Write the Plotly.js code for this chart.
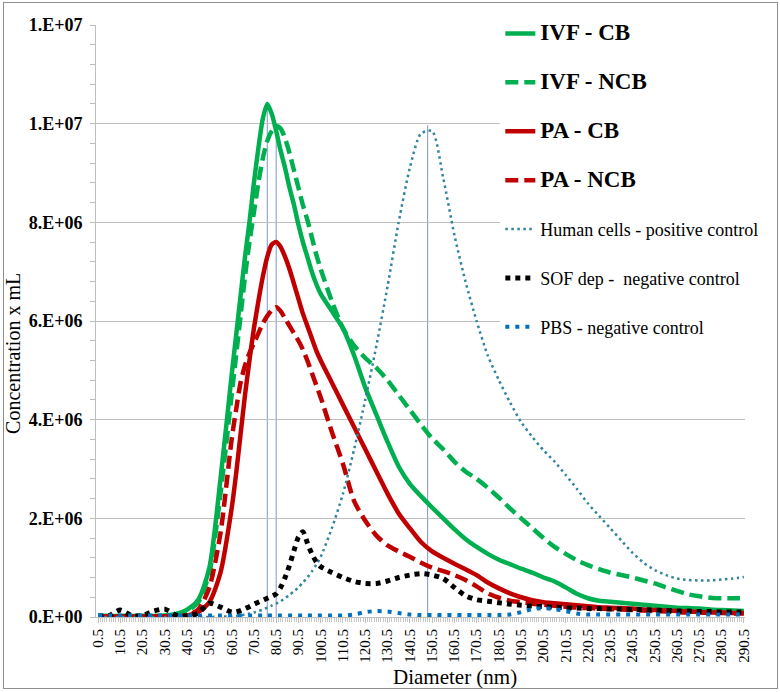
<!DOCTYPE html>
<html>
<head>
<meta charset="utf-8">
<script src="https://cdn.plot.ly/plotly-3.0.1.min.js"></script>
<style>
  body { margin: 0; background: #ffffff; }
  #chart { width: 780px; height: 692px; }
  #frame {
    position: absolute; left: 3px; top: 2px; width: 773px; height: 685px;
    border: 1px solid #8e8e8e; pointer-events: none;
  }
</style>
</head>
<body>
<div id="chart"></div>
<div id="frame"></div>
<script>
const FONT = "Times New Roman";
const SCALE = 1e6; // series below are in millions per mL

const diameters = [
  0.5, 5.5, 10.5, 15.5, 20.5, 25.5, 30.5, 35.5, 40.5, 45.5, 50.5, 55.5,
  60.5, 62.5, 64.5, 66.5, 68.5, 70.5, 72.5, 74.5, 76.5, 78.5, 80.5, 82.5, 84.5, 86.5, 88.5, 90.5, 92.5, 94.5, 96.5, 98.5, 100.5,
  105.5, 110.5, 115.5, 120.5, 125.5, 130.5, 135.5, 140.5, 145.5, 150.5, 155.5, 160.5, 165.5, 170.5, 175.5, 180.5, 185.5, 190.5,
  195.5, 200.5, 205.5, 210.5, 215.5, 220.5, 225.5, 230.5, 235.5, 240.5, 245.5, 250.5, 255.5, 260.5, 265.5, 270.5, 275.5, 280.5, 285.5, 290.5,
];

const ivfCb = [
  0.02, 0.02, 0.02, 0.02, 0.02, 0.02, 0.03, 0.06, 0.15, 0.35, 1.0, 2.8,
  4.9, 5.7, 6.5, 7.3, 8.0, 8.8, 9.5, 10.1, 10.4, 10.2, 9.85, 9.45, 9.1, 8.7, 8.35, 7.95, 7.6, 7.3, 7.0, 6.75, 6.55,
  6.2, 5.85, 5.3, 4.65, 4.1, 3.55, 3.05, 2.7, 2.45, 2.22, 2.0, 1.78, 1.58, 1.42, 1.28, 1.16, 1.07, 0.98,
  0.9, 0.8, 0.72, 0.6, 0.47, 0.38, 0.33, 0.31, 0.29, 0.27, 0.25, 0.23, 0.21, 0.19, 0.18, 0.17, 0.15, 0.14, 0.13, 0.12,
];
const ivfNcb = [
  0.02, 0.02, 0.02, 0.02, 0.02, 0.02, 0.02, 0.04, 0.12, 0.3, 0.9, 2.5,
  4.5, 5.3, 6.1, 6.9, 7.6, 8.2, 8.8, 9.3, 9.65, 9.85, 9.95, 9.9, 9.7, 9.4, 9.05, 8.7, 8.35, 8.05, 7.7, 7.35, 7.05,
  6.4, 5.85, 5.5, 5.25, 5.05, 4.8, 4.5, 4.2, 3.9, 3.62, 3.4, 3.15, 2.95, 2.8, 2.62, 2.42, 2.2, 2.0,
  1.8, 1.6, 1.42, 1.28, 1.15, 1.05, 0.97, 0.9, 0.85, 0.8, 0.74, 0.68, 0.6, 0.53, 0.46, 0.42, 0.39, 0.38, 0.38, 0.38,
];
const paCb = [
  0.01, 0.01, 0.01, 0.01, 0.01, 0.01, 0.01, 0.01, 0.03, 0.1, 0.3, 0.9,
  2.2, 2.9, 3.7, 4.5, 5.2, 5.85, 6.4, 6.9, 7.3, 7.55, 7.6, 7.5, 7.3, 7.05, 6.75, 6.45, 6.15, 5.9, 5.65, 5.4, 5.2,
  4.75, 4.3, 3.85, 3.4, 2.95, 2.5, 2.1, 1.8, 1.52, 1.33, 1.2, 1.08, 0.97, 0.85, 0.7, 0.58, 0.48, 0.4,
  0.34, 0.3, 0.28, 0.26, 0.24, 0.22, 0.2, 0.19, 0.18, 0.17, 0.15, 0.14, 0.13, 0.12, 0.11, 0.1, 0.09, 0.09, 0.08, 0.08,
];
const paNcb = [
  0.01, 0.01, 0.01, 0.01, 0.01, 0.01, 0.01, 0.01, 0.03, 0.15, 0.6, 1.7,
  3.6, 4.2, 4.75, 5.1, 5.35, 5.55, 5.75, 5.95, 6.1, 6.22, 6.28, 6.2, 6.05, 5.9, 5.75, 5.6, 5.42, 5.2, 4.95, 4.7, 4.45,
  3.75, 3.1, 2.35, 1.95, 1.65, 1.45, 1.33, 1.22, 1.1, 1.0, 0.93, 0.85, 0.75, 0.62, 0.48, 0.39, 0.33, 0.3,
  0.27, 0.25, 0.23, 0.21, 0.19, 0.18, 0.17, 0.16, 0.15, 0.14, 0.13, 0.12, 0.11, 0.1, 0.09, 0.09, 0.08, 0.08, 0.07, 0.07,
];
const humanCells = [
  0, 0, 0, 0, 0, 0, 0, 0, 0, 0, 0, 0.01,
  0.01, 0.02, 0.03, 0.05, 0.07, 0.09, 0.12, 0.15, 0.19, 0.23, 0.27, 0.32, 0.38, 0.45, 0.52, 0.6, 0.7, 0.8, 0.92, 1.06, 1.22,
  1.8, 2.5, 3.4, 4.4, 5.5, 6.7, 8.0, 9.1, 9.8, 9.85, 8.9, 7.75, 6.8, 6.0, 5.3, 4.8, 4.35, 3.95,
  3.65, 3.38, 3.15, 2.88, 2.6, 2.3, 2.05, 1.8, 1.55, 1.3, 1.1, 0.95, 0.85, 0.78, 0.75, 0.74, 0.74, 0.76, 0.78, 0.81,
];
const sofDep = [
  0.02, 0.03, 0.14, 0.03, 0.03, 0.12, 0.16, 0.04, 0.02, 0.08, 0.28, 0.2,
  0.1, 0.1, 0.13, 0.17, 0.21, 0.26, 0.3, 0.34, 0.38, 0.42, 0.47, 0.6, 0.8, 1.05, 1.35, 1.62, 1.73, 1.5, 1.28, 1.12, 1.02,
  0.9, 0.8, 0.72, 0.68, 0.68, 0.73, 0.8, 0.85, 0.88, 0.85, 0.78, 0.6, 0.43, 0.35, 0.32, 0.29, 0.26, 0.24,
  0.22, 0.21, 0.2, 0.19, 0.18, 0.17, 0.17, 0.16, 0.16, 0.15, 0.15, 0.14, 0.13, 0.12, 0.12, 0.11, 0.11, 0.1, 0.1, 0.1,
];
const pbs = [
  0.03, 0.03, 0.03, 0.03, 0.03, 0.03, 0.03, 0.03, 0.03, 0.03, 0.03, 0.03,
  0.03, 0.03, 0.03, 0.03, 0.03, 0.03, 0.03, 0.03, 0.03, 0.03, 0.03, 0.03, 0.03, 0.03, 0.03, 0.03, 0.03, 0.03, 0.03, 0.03, 0.03,
  0.03, 0.03, 0.05, 0.1, 0.12, 0.11, 0.08, 0.05, 0.04, 0.04, 0.04, 0.04, 0.04, 0.04, 0.04, 0.04, 0.05, 0.1,
  0.16, 0.18, 0.16, 0.12, 0.07, 0.05, 0.05, 0.05, 0.05, 0.05, 0.05, 0.05, 0.05, 0.05, 0.05, 0.05, 0.05, 0.05, 0.05, 0.05,
];

// drop lines under the main peaks
const peakDiameters = [76.5, 80.5, 148.5];
const peakHeights = [10.4, 9.95, 9.97];

const xTickValues = [0.5, 10.5, 20.5, 30.5, 40.5, 50.5, 60.5, 70.5, 80.5, 90.5, 100.5, 110.5, 120.5, 130.5, 140.5,
  150.5, 160.5, 170.5, 180.5, 190.5, 200.5, 210.5, 220.5, 230.5, 240.5, 250.5, 260.5, 270.5, 280.5, 290.5];
const yTickValues = [0, 2, 4, 6, 8, 10, 12];
const yTickLabels = ["0.E+00", "2.E+06", "4.E+06", "6.E+06", "8.E+06", "1.E+07", "1.E+07"];

const SERIES = [
  { name: "IVF - CB", values: ivfCb, color: "#00b050", width: 4.5, dash: "solid", bold: true },
  { name: "IVF - NCB", values: ivfNcb, color: "#00b050", width: 4.5, dash: "13px,6px", bold: true },
  { name: "PA - CB", values: paCb, color: "#c00000", width: 4.5, dash: "solid", bold: true },
  { name: "PA - NCB", values: paNcb, color: "#c00000", width: 4.5, dash: "13px,6px", bold: true },
  { name: "Human cells - positive control", values: humanCells, color: "#31849b", width: 2.5, dash: "2.5px,3.5px" },
  { name: "SOF dep -  negative control", values: sofDep, color: "#000000", width: 5, dash: "5px,5px" },
  { name: "PBS - negative control", values: pbs, color: "#0070c0", width: 4, dash: "4px,6px" },
];

function legendLabel(series) {
  const text = series.name.replace(/ {2}/g, " &nbsp;");
  return series.bold ? `<b><span style="font-size:23px">${text}</span></b>` : text;
}

function buildTraces() {
  return SERIES.map((series, index) => ({
    type: "scatter",
    mode: "lines",
    name: legendLabel(series),
    legendgroup: `g${index}`,
    x: diameters,
    y: series.values.map((value) => value * SCALE),
    line: { color: series.color, width: series.width, dash: series.dash, shape: "spline", smoothing: 0.7 },
    hoverinfo: "skip",
  }));
}

function buildDropLines() {
  return peakDiameters.map((diameter, index) => ({
    type: "line",
    xref: "x",
    yref: "y",
    x0: diameter,
    x1: diameter,
    y0: 0,
    y1: peakHeights[index] * SCALE,
    layer: "below",
    line: { color: "#7b97c8", width: 1 },
  }));
}

function main() {
  const layout = {
    width: 780,
    height: 692,
    margin: { l: 96, r: 35, t: 25, b: 75 },
    paper_bgcolor: "#ffffff",
    plot_bgcolor: "#ffffff",
    font: { family: FONT, color: "#000000" },
    showlegend: true,
    legend: {
      x: 0.623,
      xanchor: "left",
      y: 1.0165,
      yanchor: "top",
      bgcolor: "#ffffff",
      borderwidth: 0,
      tracegroupgap: 22.5,
      font: { family: FONT, size: 18, color: "#000000" },
    },
    xaxis: {
      type: "linear",
      range: [-0.4, 291],
      tickvals: xTickValues,
      ticktext: xTickValues.map((value) => value.toFixed(1)),
      tickangle: -90,
      tickfont: { family: FONT, size: 15 },
      ticks: "outside",
      ticklen: 5,
      tickcolor: "#bfbfbf",
      minor: { dtick: 1, tick0: 0.5, ticks: "outside", ticklen: 4, tickcolor: "#c8c8c8" },
      showgrid: false,
      zeroline: false,
      showline: true,
      linecolor: "#bfbfbf",
      linewidth: 1,
    },
    yaxis: {
      range: [0, 12 * SCALE],
      tickvals: yTickValues.map((value) => value * SCALE),
      ticktext: yTickLabels,
      tickfont: { family: FONT, size: 18, weight: "bold" },
      ticks: "outside",
      ticklen: 5,
      tickcolor: "#bfbfbf",
      minor: { dtick: 0.4 * SCALE, ticks: "outside", ticklen: 5, tickcolor: "#bfbfbf" },
      ticklabelstandoff: 4,
      showgrid: true,
      gridcolor: "#bfbfbf",
      gridwidth: 1,
      zeroline: false,
      showline: true,
      linecolor: "#bfbfbf",
      linewidth: 1,
    },
    shapes: buildDropLines(),
    annotations: [
      {
        text: "Concentration x mL",
        xref: "paper", yref: "paper",
        x: -0.128, y: 0.446,
        xanchor: "center", yanchor: "middle",
        textangle: -90,
        showarrow: false,
        font: { family: FONT, size: 20 },
      },
      {
        text: "Diameter (nm)",
        xref: "paper", yref: "paper",
        x: 0.553, y: -0.101,
        xanchor: "center", yanchor: "middle",
        showarrow: false,
        font: { family: FONT, size: 21 },
      },
    ],
  };

  Plotly.newPlot("chart", buildTraces(), layout, { displayModeBar: false, staticPlot: true });
}

main();
</script>
</body>
</html>
